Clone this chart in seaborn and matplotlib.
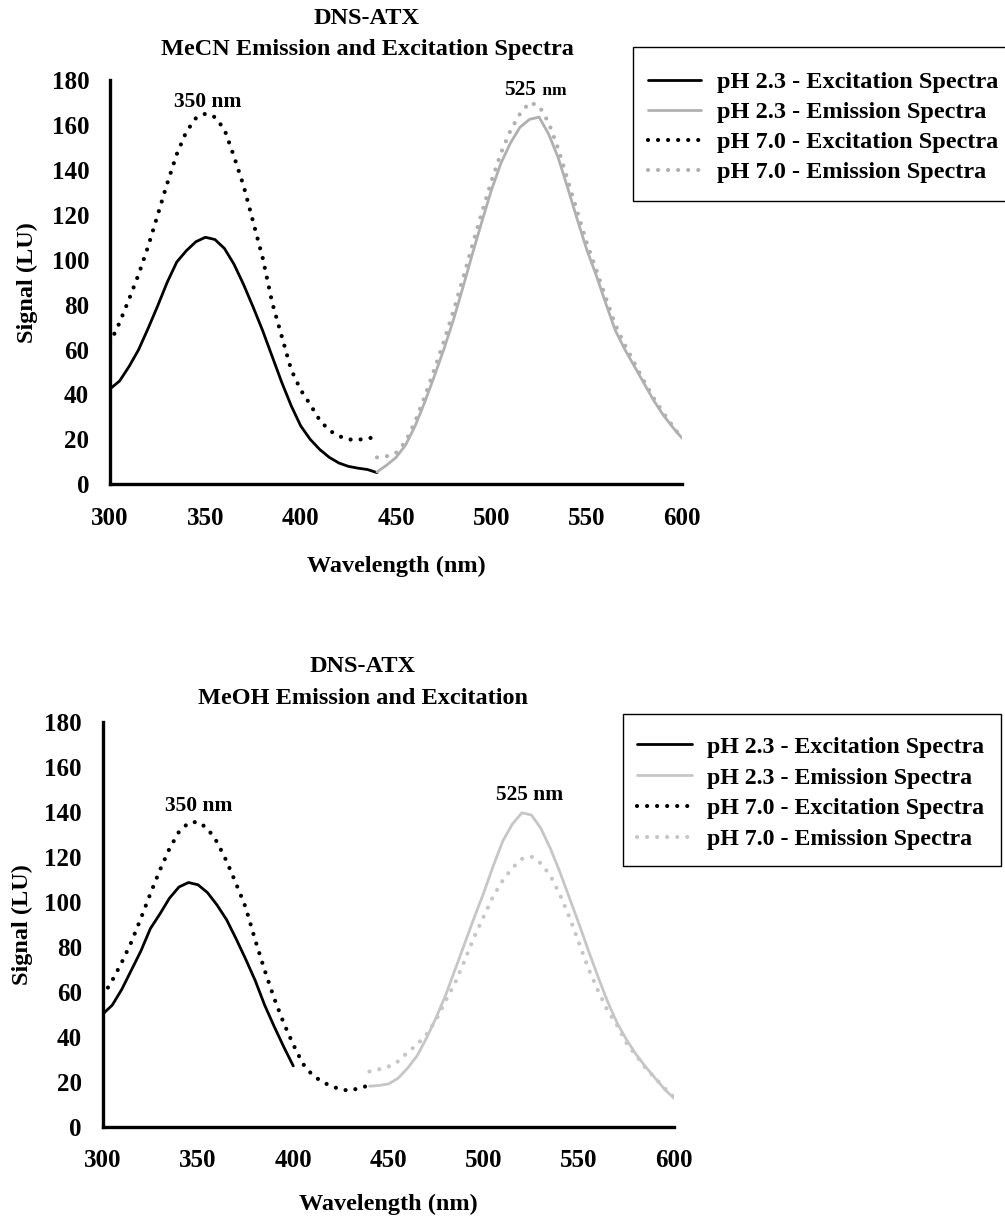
import matplotlib
matplotlib.use("Agg")
import matplotlib.pyplot as plt
from matplotlib.patches import Rectangle
import seaborn as sns
import pandas as pd

sns.set_theme(style="white")
plt.rcParams["font.family"] = ["Liberation Serif", "DejaVu Serif"]
plt.rcParams["font.weight"] = "bold"
plt.rcParams["text.color"] = "black"
plt.rcParams["axes.labelcolor"] = "black"
plt.rcParams["xtick.color"] = "black"
plt.rcParams["ytick.color"] = "black"

# ---- MeCN spectra ----
mecn_ex_wl = [300, 305, 310, 315, 320, 325, 330, 335, 340, 345, 350, 355, 360, 365,
              370, 375, 380, 385, 390, 395, 400, 405, 410, 415, 420, 425, 430, 435, 440]
mecn_ex_ph23 = [42.5, 46, 52.5, 60, 69.5, 79.5, 90, 99, 104, 108, 110, 109, 105, 98,
                89, 79, 68.5, 57, 45.5, 35, 26, 20, 15.5, 12, 9.5, 8, 7.2, 6.6, 5.2]
mecn_ex_ph70 = [63, 72, 82.5, 93.5, 106, 120, 134, 147, 157, 163, 165, 163.5, 158, 146,
                133, 117, 101, 81, 66, 51, 42, 35.5, 28.5, 24, 21.5, 20, 19.8, 20.5, 21]

mecn_em_wl = [440, 445, 450, 455, 460, 465, 470, 475, 480, 485, 490, 495, 500, 505, 510,
              515, 520, 525, 530, 535, 540, 545, 550, 555, 560, 565, 570, 575, 580, 585,
              590, 595, 600]
mecn_em_ph23 = [5.5, 8.5, 12, 17.5, 26, 36.5, 48, 60, 73, 87.5, 102.5, 117, 131, 143, 152,
                159, 162.5, 163.5, 156, 145.5, 132, 118, 104.5, 93, 80.5, 68.5, 60, 52.5, 45,
                37.5, 31, 25.5, 20.5]
mecn_em_ph70 = [12, 12.5, 14, 19, 28, 39, 51, 63.5, 77, 91.5, 106.5, 121, 135, 147.5, 157.5,
                165, 170, 168.5, 161, 149.5, 135.5, 121.5, 107.5, 95.5, 83, 71, 62, 54, 46,
                38.5, 32, 26, 20.5]

# ---- MeOH spectra ----
meoh_ex23_wl = [300, 305, 310, 315, 320, 325, 330, 335, 340, 345, 350, 355, 360, 365,
                370, 375, 380, 385, 390, 395, 400]
meoh_ex_ph23 = [50, 54, 61, 69.5, 78, 88, 94.5, 101.5, 106.5, 108.5, 107.5, 104, 98.5, 92,
                83.5, 74.5, 65, 54, 44.5, 35.5, 27]
meoh_ex70_wl = [300, 305, 310, 315, 320, 325, 330, 335, 340, 345, 350, 355, 360, 365,
                370, 375, 380, 385, 390, 395, 400, 405, 410, 415, 420, 425, 430, 435, 440]
meoh_ex_ph70 = [58, 65, 73, 82, 92.5, 103.5, 114, 123.5, 131, 135, 135.5, 132.5, 126.5, 118,
                108, 97.5, 83, 69.5, 57, 46, 36.5, 28, 23, 20, 18, 16.5, 16, 17.3, 18.3]

meoh_em_wl = [440, 445, 450, 455, 460, 465, 470, 475, 480, 485, 490, 495, 500, 505, 510,
              515, 520, 525, 530, 535, 540, 545, 550, 555, 560, 565, 570, 575, 580, 585,
              590, 595, 600]
meoh_em_ph23 = [18, 18.3, 19, 21.5, 26, 31.5, 39.5, 48.5, 58.5, 70, 81.5, 93, 104, 116, 127,
                134.5, 139.5, 138.5, 132.5, 123.5, 113, 101.5, 90, 78, 66.5, 55.5, 46, 38.5,
                32, 26.5, 21.5, 16.5, 12.5]
meoh_em_ph70 = [24.5, 25.5, 26.7, 29, 33, 36.5, 41, 47.5, 56, 64, 74, 84.4, 93.5, 102.5, 109.5,
                115, 119, 120, 117, 111.5, 103, 93, 81.5, 70, 60.4, 51.5, 45, 37, 31.5, 26,
                21.5, 17, 13]

series_labels = ["pH 2.3 - Excitation Spectra", "pH 2.3 - Emission Spectra",
                 "pH 7.0 - Excitation Spectra", "pH 7.0 - Emission Spectra"]

W, H = 1005, 1220

panels = [
    dict(series=[(mecn_ex_wl, mecn_ex_ph23), (mecn_em_wl, mecn_em_ph23),
                 (mecn_ex_wl, mecn_ex_ph70), (mecn_em_wl, mecn_em_ph70)],
         gray="#b0b0b0",
         rect=[0.1095, 0.6030, 0.5692, 0.3314],
         ylabelpad=10, xlabelpad=19,
         # legend: frame box (px) and first-handle anchor (px)
         box=(633, 47, 1012, 200.7), anchor=(648, 71), legsize=17.5, legspace=0.33,
         handlelen=2.2),
    dict(series=[(meoh_ex23_wl, meoh_ex_ph23), (meoh_em_wl, meoh_em_ph23),
                 (meoh_ex70_wl, meoh_ex_ph70), (meoh_em_wl, meoh_em_ph70)],
         gray="#c6c6c6",
         rect=[0.1022, 0.0765, 0.5688, 0.3320],
         ylabelpad=8, xlabelpad=16,
         box=(622.7, 714, 1000.7, 865.7), anchor=(637, 736), legsize=17.2, legspace=0.38,
         handlelen=2.3),
]

FONT = 18
fig = plt.figure(figsize=(W / 100, H / 100), dpi=100)
dot_style = (0, (0.01, 2.4))

axes = []
for p in panels:
    ax = fig.add_axes(p["rect"])
    axes.append(ax)
    colors = ["black", p["gray"], "black", p["gray"]]
    dotted = [False, False, True, True]
    widths = [2.0, 2.0, 3.0, 3.0]
    for (wl, sig), lab, c, is_dot, lw in zip(p["series"], series_labels, colors, dotted, widths):
        df = pd.DataFrame({"Wavelength": wl, "Signal": sig})
        sns.lineplot(data=df, x="Wavelength", y="Signal", ax=ax, color=c, linewidth=lw,
                     label=lab, estimator=None, sort=False)
        ln = ax.get_lines()[-1]
        if is_dot:
            ln.set_linestyle(dot_style)
            ln.set_dash_capstyle("round")
    ax.set_xlim(300, 600)
    ax.set_ylim(0, 180)
    ax.set_xticks(range(300, 601, 50))
    ax.set_yticks(range(0, 181, 20))
    for s in ["top", "right"]:
        ax.spines[s].set_visible(False)
    for s in ["left", "bottom"]:
        ax.spines[s].set_linewidth(2.4)
        ax.spines[s].set_color("black")
    ax.tick_params(axis="both", direction="out", length=5, width=2, colors="black",
                   labelcolor="black", labelsize=FONT)
    ax.tick_params(axis="x", pad=11)
    ax.tick_params(axis="y", pad=10)
    for t in ax.get_xticklabels() + ax.get_yticklabels():
        t.set_fontweight("bold")
    ax.set_xlabel("Wavelength (nm)", fontsize=17.5, fontweight="bold", color="black",
                  labelpad=p["xlabelpad"])
    ax.set_ylabel("Signal (LU)", fontsize=17.5, fontweight="bold", color="black",
                  labelpad=p["ylabelpad"])
    ax.patch.set_alpha(0)
    ax.get_legend().remove()

    # legend frame and entries (figure-level, drawn above the axes)
    x0, y0, x1, y1 = p["box"]
    fig.patches.append(Rectangle((x0 / W, 1 - y1 / H), (x1 - x0) / W, (y1 - y0) / H,
                                 transform=fig.transFigure, fill=True, facecolor="white",
                                 edgecolor="black", linewidth=1.0, zorder=5))
    ax_x, ax_y = p["anchor"]
    handles = ax.get_lines()[:4]
    leg = fig.legend(handles, series_labels, loc="upper left",
                     bbox_to_anchor=(ax_x / W, 1 - ax_y / H),
                     bbox_transform=fig.transFigure, frameon=False,
                     prop={"family": "Liberation Serif", "weight": "bold", "size": p["legsize"]},
                     labelcolor="black",
                     handlelength=p["handlelen"], handletextpad=0.62,
                     labelspacing=p["legspace"], borderpad=0, borderaxespad=0)
    leg.set_zorder(6)

# panel titles
title_kw = dict(ha="center", va="center", fontsize=17.5, fontweight="bold", color="black")
fig.text(367 / W, 1 - 18 / H, "DNS-ATX", **title_kw)
fig.text(367 / W, 1 - 49 / H, "MeCN Emission and Excitation Spectra", **title_kw)
fig.text(363 / W, 1 - 666 / H, "DNS-ATX", **title_kw)
fig.text(363 / W, 1 - 698 / H, "MeOH Emission and Excitation", **title_kw)

# peak annotations
top, bot = axes
ann = dict(va="center", fontweight="bold", color="black")
top.text(351, 170.4, "350 nm", ha="center", fontsize=15.5, **ann)
top.text(523.4, 175.6, "525", ha="right", fontsize=15.5, **ann)
top.text(524.3, 175.0, " nm", ha="left", fontsize=12.5, **ann)
bot.text(350.6, 142.5, "350 nm", ha="center", fontsize=15.5, **ann)
bot.text(523.9, 147.4, "525 nm", ha="center", fontsize=15.5, **ann)

fig.savefig("out.png", dpi=100, facecolor="white")
